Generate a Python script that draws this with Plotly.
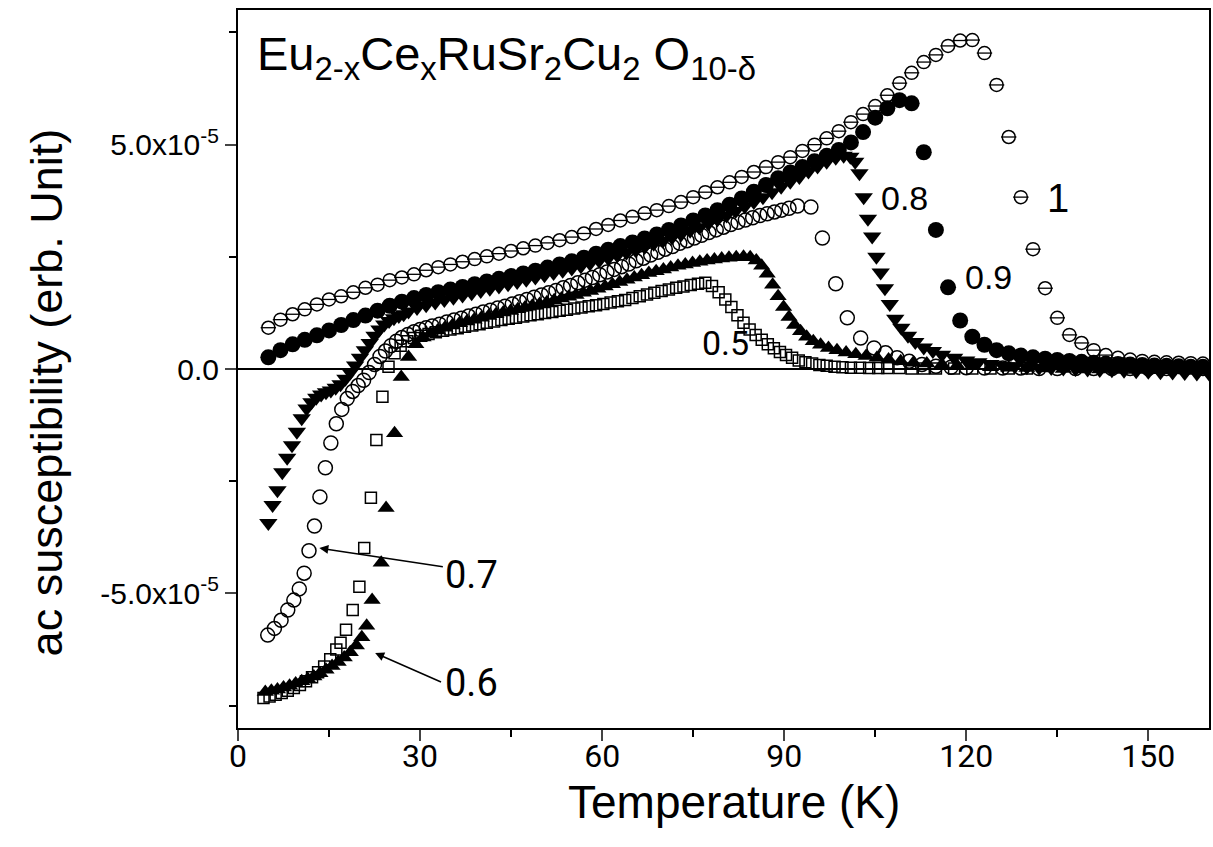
import plotly.graph_objects as go

# ---------------- data (chi in units of 1e-5) ----------------
T_x10 = [5, 7, 9, 11, 13, 15, 17, 19, 21, 23, 25, 27, 29, 31, 33, 35, 37, 39, 41, 43,
         45, 47, 49, 51, 53, 55, 57, 59, 61, 63, 65, 67, 69, 71, 73, 75, 77, 79, 81, 83,
         85, 87, 89, 91, 93, 95, 97, 99, 101, 103, 105, 107, 109, 111, 113, 115, 117, 119, 121, 123,
         125, 127, 129, 131, 133, 135, 137, 139, 141, 143, 145, 147, 149, 151, 153, 155, 157, 159]
chi_x10 = [0.92, 1.10, 1.22, 1.33, 1.44, 1.55, 1.62, 1.71, 1.81, 1.88,
           1.98, 2.04, 2.11, 2.20, 2.27, 2.33, 2.39, 2.45, 2.51, 2.57,
           2.63, 2.69, 2.75, 2.81, 2.87, 2.94, 3.02, 3.12, 3.21, 3.31,
           3.39, 3.47, 3.54, 3.63, 3.72, 3.83, 3.94, 4.05, 4.16, 4.28,
           4.39, 4.50, 4.61, 4.72, 4.86, 5.00, 5.14, 5.30, 5.50, 5.68,
           5.86, 6.10, 6.37, 6.60, 6.84, 7.00, 7.20, 7.32, 7.33, 7.04,
           6.33, 5.17, 3.83, 2.67, 1.80, 1.14, 0.76, 0.58, 0.42, 0.31,
           0.25, 0.21, 0.18, 0.16, 0.15, 0.14, 0.13, 0.12]

T_x09 = [5, 7, 9, 11, 13, 15, 17, 19, 21, 23, 25, 27, 29, 31, 33, 35, 37, 39, 41, 43,
         45, 47, 49, 51, 53, 55, 57, 59, 61, 63, 65, 67, 69, 71, 73, 75, 77, 79, 81, 83,
         85, 87, 89, 91, 93, 95, 97, 99, 101, 103, 105, 107, 109, 111, 113, 115, 117, 119, 121, 123,
         125, 127, 129, 131, 133, 135, 137, 139, 141, 143, 145, 147, 149, 151, 153, 155, 157, 159]
chi_x09 = [0.26, 0.42, 0.55, 0.65, 0.75, 0.86, 0.98, 1.09, 1.19, 1.30,
           1.41, 1.50, 1.58, 1.65, 1.71, 1.77, 1.83, 1.89, 1.95, 2.01,
           2.07, 2.13, 2.19, 2.26, 2.33, 2.40, 2.48, 2.57, 2.66, 2.74,
           2.82, 2.91, 3.00, 3.10, 3.20, 3.31, 3.42, 3.54, 3.66, 3.80,
           3.95, 4.10, 4.25, 4.38, 4.50, 4.63, 4.75, 4.88, 5.05, 5.28,
           5.60, 5.81, 5.99, 5.92, 4.83, 3.10, 1.82, 1.08, 0.72, 0.54,
           0.42, 0.35, 0.30, 0.26, 0.23, 0.20, 0.18, 0.16, 0.14, 0.12,
           0.11, 0.10, 0.09, 0.08, 0.07, 0.06, 0.05, 0.05]

T_x08 = [5.0, 5.7, 6.5, 7.3, 8.1, 8.9, 9.7, 10.5, 11.3, 12.1, 12.9, 13.7, 14.5, 15.3, 16.1,
         16.9, 17.7, 18.5, 19.3, 20.1, 20.9, 21.7, 22.5, 23.3, 24.1, 24.9, 25.7, 26.5, 27.3, 28.1,
         29.5, 31, 32.5, 34, 35.5, 37, 38.5, 40, 41.5, 43, 44.5, 46, 47.5, 49, 50.5, 52, 53.5,
         55, 56.5, 58, 59.5, 61, 62.5, 64, 65.5, 67, 68.5, 70, 71.5, 73, 74.5, 76, 77.5, 79,
         80.5, 82, 83.5, 85, 86.5, 88, 89.5, 91, 92.5, 94, 95.5, 97, 98.5, 99.8, 100.9, 101.7,
         102.4, 103.1, 103.8, 104.5, 105.2, 105.9, 106.6, 107.4, 108.3, 109.3, 110.4, 111.6,
         113, 114.5, 116, 118, 120, 122, 124, 126, 128, 130, 132, 134, 136, 138, 140, 142,
         144, 146, 148, 150, 152, 154, 156, 158, 160]
chi_x08 = [-3.43, -3.03, -2.70, -2.30, -1.98, -1.70, -1.40, -1.10, -0.88, -0.74, -0.64, -0.57,
           -0.52, -0.48, -0.42, -0.34, -0.22, -0.08, 0.08, 0.25, 0.42, 0.58, 0.74, 0.88, 0.99,
           1.07, 1.13, 1.18, 1.22, 1.28,
           1.36, 1.42, 1.48, 1.54, 1.59, 1.64, 1.69, 1.74, 1.79, 1.84, 1.89, 1.94, 1.99, 2.04,
           2.09, 2.14, 2.19, 2.24, 2.29, 2.35, 2.41, 2.47, 2.53, 2.59, 2.65, 2.72, 2.79, 2.86,
           2.93, 3.00, 3.08, 3.16, 3.24, 3.33, 3.42, 3.52, 3.62, 3.72, 3.83, 3.94, 4.06, 4.17,
           4.28, 4.40, 4.51, 4.62, 4.71, 4.75, 4.73, 4.62,
           4.36, 3.83, 3.35, 2.95, 2.50, 2.15, 1.80, 1.45, 1.12, 0.92, 0.74, 0.60,
           0.48, 0.40, 0.32, 0.25, 0.19, 0.15, 0.11, 0.08, 0.06, 0.04, 0.03, 0.02, 0.01, 0.00,
           -0.01, -0.02, -0.03, -0.04, -0.05, -0.06, -0.07, -0.08, -0.09, -0.10, -0.10]

T_x07 = [4.9, 6.0, 7.1, 8.2, 9.2, 10.1, 10.9, 11.7, 12.6, 13.5, 14.4, 15.3, 16.2, 17.1, 18.0,
         18.9, 19.8, 20.7, 21.6, 22.5, 23.4, 24.3, 25.2, 26.1, 27.0, 28.0, 29.0, 30.0, 31.0, 32.0,
         33.2, 34.4, 35.6, 36.8, 38.0, 39.2, 40.4, 41.6, 42.8, 44.0, 45.2, 46.4, 47.6, 48.8, 50.0,
         51.2, 52.4, 53.6, 54.8, 56.0, 57.2, 58.4, 59.6, 60.8, 62.0, 63.2, 64.4, 65.6, 66.8, 68.0,
         69.2, 70.4, 71.6, 72.8, 74.0, 75.2, 76.4, 77.6, 78.8, 80.0, 81.2, 82.4, 83.6, 84.8, 86.0,
         87.2, 88.4, 89.6, 90.8, 92.2, 94.4, 96.3, 98.5, 100.4, 102.6, 104.8, 106.7, 108.6, 110.6,
         112.7, 115.0, 117.5, 120, 123, 126, 129, 132, 135, 138, 141, 144, 147, 150, 153, 156, 159]
chi_x07 = [-5.93, -5.78, -5.60, -5.37, -5.15, -4.90, -4.55, -4.05, -3.50, -2.85, -2.20, -1.65,
           -1.22, -0.90, -0.66, -0.50, -0.37, -0.25, -0.08, 0.10, 0.28, 0.40, 0.52, 0.62, 0.70,
           0.77, 0.83, 0.88, 0.92, 0.96,
           1.00, 1.05, 1.09, 1.13, 1.18, 1.22, 1.27, 1.31, 1.36, 1.40, 1.45, 1.50, 1.55, 1.60,
           1.65, 1.70, 1.75, 1.81, 1.86, 1.92, 1.98, 2.04, 2.10, 2.16, 2.22, 2.28, 2.34, 2.41,
           2.47, 2.54, 2.60, 2.67, 2.73, 2.80, 2.86, 2.92, 2.98, 3.04, 3.10, 3.16, 3.22, 3.27,
           3.32, 3.37, 3.42, 3.46, 3.50, 3.54, 3.58, 3.63, 3.61, 2.92, 1.90, 1.14, 0.69, 0.47,
           0.36, 0.25, 0.17, 0.10, 0.06, 0.04, 0.03, 0.02, 0.02, 0.02, 0.01, 0.01, 0.01, 0.01,
           0.01, 0.01, 0.01, 0.01, 0.01, 0.01]

T_x06 = [4.5, 5.5, 6.5, 7.5, 8.5, 9.5, 10.5, 11.5, 12.5, 13.5, 14.5, 15.5, 16.5, 17.5, 18.5,
         19.5, 20.4, 21.2, 22.1, 23.6, 24.4, 25.8, 26.9, 28.1, 29.3, 30.5, 31.7, 32.9, 34.1, 35.3,
         36.5, 37.7, 38.9, 40.1, 41.3, 42.5, 43.7, 44.9, 46.1, 47.3, 48.5, 49.7, 50.9, 52.1, 53.3,
         54.5, 55.7, 56.9, 58.1, 59.3, 60.5, 61.7, 62.9, 64.1, 65.3, 66.5, 67.7, 68.9, 70.1, 71.3,
         72.5, 73.7, 74.9, 76.1, 77.3, 78.5, 79.7, 80.9, 82.1, 83.3, 84.4, 85.4, 86.3, 87.2, 88.1,
         89.0, 89.9, 90.8, 91.7, 92.7, 93.7, 94.8, 96.0, 97.3, 98.7, 100.2, 101.8, 103.5, 105.3,
         107.2, 109.2, 111.3, 113.5, 116, 118.5, 121, 124, 127, 130, 133, 136, 139, 142, 145,
         148, 151, 154, 157, 160]
chi_x06 = [-7.20, -7.17, -7.14, -7.10, -7.06, -7.01, -6.96, -6.91, -6.85, -6.78, -6.70, -6.62,
           -6.53, -6.43, -6.31, -6.16, -5.98, -5.72, -5.15, -4.32, -3.10, -1.43, -0.18, 0.27,
           0.55, 0.70, 0.79, 0.86, 0.92, 0.97, 1.02, 1.06, 1.10, 1.14, 1.18, 1.22, 1.26, 1.29,
           1.33, 1.37, 1.41, 1.45, 1.49, 1.53, 1.57, 1.61, 1.65, 1.70, 1.74, 1.79, 1.84, 1.89,
           1.94, 1.99, 2.04, 2.09, 2.14, 2.18, 2.22, 2.26, 2.30, 2.33, 2.36, 2.39, 2.42, 2.44,
           2.46, 2.48, 2.49, 2.50, 2.49, 2.42, 2.30, 2.12, 1.88, 1.62, 1.38, 1.16, 0.98, 0.84,
           0.72, 0.62, 0.54, 0.47, 0.42, 0.37, 0.33, 0.29, 0.25, 0.21, 0.17, 0.14, 0.12, 0.10,
           0.08, 0.06, 0.04, 0.03, 0.02, 0.01, 0.00, -0.01, -0.01, -0.02, -0.02, -0.03, -0.03,
           -0.03, -0.04]

T_x05 = [4.2, 5.2, 6.2, 7.2, 8.2, 9.2, 10.2, 11.2, 12.2, 13.2, 14.2, 15.2, 16.2, 16.9, 17.8,
         18.9, 20.0, 20.8, 21.9, 22.8, 23.8, 24.8, 25.8, 26.8, 27.9, 29.0, 30.2, 31.4, 32.6, 33.8,
         35.0, 36.2, 37.4, 38.6, 39.8, 41.0, 42.2, 43.4, 44.6, 45.8, 47.0, 48.2, 49.4, 50.6, 51.8,
         53.0, 54.2, 55.4, 56.6, 57.8, 59.0, 60.2, 61.4, 62.6, 63.8, 65.0, 66.2, 67.4, 68.6, 69.8,
         71.0, 72.2, 73.4, 74.6, 75.8, 77.0, 78.1, 79.2, 80.3, 81.3, 82.3, 83.3, 84.3, 85.3, 86.3,
         87.3, 88.3, 89.3, 90.3, 91.3, 92.4, 93.5, 94.6, 95.8, 97.0, 98.3, 99.6, 101, 102.5, 104,
         105.5, 107, 109, 111, 113, 115, 118, 121, 124, 127, 130]
chi_x05 = [-7.33, -7.30, -7.26, -7.22, -7.17, -7.11, -7.04, -6.96, -6.87, -6.76, -6.63, -6.47,
           -6.25, -6.10, -5.81, -5.37, -4.85, -3.99, -2.87, -1.58, -0.62, 0.05, 0.35, 0.52,
           0.62, 0.69, 0.74, 0.78, 0.82, 0.85, 0.88, 0.91, 0.94, 0.97, 1.00, 1.03, 1.06, 1.09,
           1.12, 1.14, 1.17, 1.20, 1.22, 1.25, 1.27, 1.30, 1.32, 1.35, 1.37, 1.40, 1.42, 1.45,
           1.48, 1.51, 1.54, 1.58, 1.62, 1.66, 1.70, 1.74, 1.77, 1.81, 1.84, 1.87, 1.90, 1.92,
           1.85, 1.71, 1.55, 1.38, 1.20, 1.03, 0.88, 0.76, 0.65, 0.55, 0.46, 0.38, 0.31, 0.25,
           0.19, 0.15, 0.12, 0.09, 0.07, 0.05, 0.04, 0.03, 0.03, 0.02, 0.02, 0.02, 0.02, 0.01,
           0.01, 0.01, 0.01, 0.01, 0.01, 0.01, 0.01]

x_tick_vals = [0, 30, 60, 90, 120, 150]
y_tick_vals = [5, 0, -5]
y_tick_text = ["5.0x10<sup>-5</sup>", "0.0", "-5.0x10<sup>-5</sup>"]

# ---------------- figure ----------------
REG = "Liberation Sans, Arial, Helvetica, sans-serif"
NARROW = "Liberation Sans Narrow, Arial Narrow, Roboto, sans-serif"

fig = go.Figure()

def add(x, y, symbol, size, name, lw=1.5):
    fig.add_trace(go.Scatter(
        x=x, y=y, mode="markers", name=name, showlegend=False,
        marker=dict(symbol=symbol, size=size, color="black",
                    line=dict(color="black", width=lw)),
    ))

add(T_x05, chi_x05, "square-open", 11, "x=0.5")
add(T_x06, chi_x06, "triangle-up", 15, "x=0.6", 0)
add(T_x07, chi_x07, "circle-open", 14, "x=0.7")
add(T_x08, chi_x08, "triangle-down", 16, "x=0.8", 0)
add(T_x09, chi_x09, "circle", 16, "x=0.9", 0)
add(T_x10, chi_x10, "circle-open", 13, "x=1")
add(T_x10, chi_x10, "line-ew-open", 11, "x=1 bar", 1.3)

fig.update_layout(
    width=1213, height=847,
    margin=dict(l=238, r=2, t=10, b=119),
    paper_bgcolor="white", plot_bgcolor="white",
    font=dict(family=REG, color="black"),
)
fig.update_xaxes(
    range=[0, 160], tickvals=x_tick_vals, ticks="outside", ticklen=11, tickwidth=2,
    showline=True, linewidth=2, linecolor="black", mirror=True, showgrid=False, zeroline=False,
    tickfont=dict(family=NARROW, size=32), ticklabelstandoff=-12,
    minor=dict(tickvals=[15, 45, 75, 105, 135], ticks="outside", ticklen=7, tickwidth=2, tickcolor="black"),
)
fig.update_yaxes(
    range=[-8, 8], tickvals=y_tick_vals, ticktext=y_tick_text, ticks="outside", ticklen=11, tickwidth=2,
    showline=True, linewidth=2, linecolor="black", mirror=True, showgrid=False,
    zeroline=True, zerolinecolor="black", zerolinewidth=2,
    tickfont=dict(family=REG, size=30),
    minor=dict(tickvals=[7.5, 2.5, -2.5, -7.5], ticks="outside", ticklen=7, tickwidth=2, tickcolor="black"),
)

# axis titles (placed as paper-anchored texts)
fig.add_annotation(xref="paper", yref="paper", x=(735 - 238) / 973, y=(728 - 802) / 718,
                   xanchor="center", yanchor="middle", showarrow=False,
                   text="Temperature (K)", font=dict(family=REG, size=46))
fig.add_annotation(xref="paper", yref="paper", x=(46 - 238) / 973, y=(728 - 392) / 718,
                   xanchor="center", yanchor="middle", showarrow=False, textangle=-90,
                   text="ac susceptibility (erb. Unit)", font=dict(family=REG, size=45))

# formula
fig.add_annotation(xref="paper", yref="paper", x=0.017, y=0.935, xanchor="left", yanchor="middle",
                   showarrow=False,
                   text="Eu<sub>2-x</sub>Ce<sub>x</sub>RuSr<sub>2</sub>Cu<sub>2</sub> O<sub>10-δ</sub>",
                   font=dict(family=REG, size=47))

# curve labels
for txt, tx, ty, fam, fs in [("0.8", 109.8, 3.81, REG, 34), ("1", 135.2, 3.81, REG, 40),
                             ("0.9", 123.7, 2.05, REG, 34), ("0.5", 80.4, 0.58, NARROW, 34),
                             ("0.7", 38.4, -4.6, NARROW, 38), ("0.6", 38.4, -7.0, NARROW, 38)]:
    fig.add_annotation(x=tx, y=ty, text=txt, showarrow=False, font=dict(family=fam, size=fs))

# arrows
for (hx, hy, tx, ty) in [(13.4, -3.99, 34.0, -4.41), (22.6, -6.33, 33.7, -6.99)]:
    fig.add_annotation(x=hx, y=hy, ax=tx, ay=ty, xref="x", yref="y", axref="x", ayref="y",
                       text="", showarrow=True, arrowhead=2, arrowsize=1.2, arrowwidth=1.5,
                       arrowcolor="black")

fig.write_html("out.html")
